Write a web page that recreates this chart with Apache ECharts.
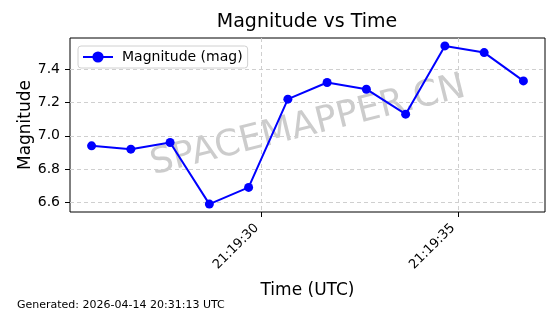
<!DOCTYPE html>
<html>
<head>
<meta charset="utf-8">
<script src="https://cdn.jsdelivr.net/npm/echarts@6/dist/echarts.min.js"></script>
<style>
html,body{margin:0;padding:0;background:#fff;}
#main{width:560px;height:314px;}
</style>
</head>
<body>
<div id="main"></div>
<script>
// observation times (UTC) and magnitudes
var times=["2026-04-13T21:19:25.670Z","2026-04-13T21:19:26.670Z","2026-04-13T21:19:27.670Z","2026-04-13T21:19:28.670Z","2026-04-13T21:19:29.670Z","2026-04-13T21:19:30.670Z","2026-04-13T21:19:31.670Z","2026-04-13T21:19:32.670Z","2026-04-13T21:19:33.670Z","2026-04-13T21:19:34.670Z","2026-04-13T21:19:35.670Z","2026-04-13T21:19:36.670Z"];
var mags=[6.94,6.92,6.96,6.59,6.69,7.22,7.32,7.28,7.13,7.54,7.50,7.33];
var xTicks=["2026-04-13T21:19:30.000Z","2026-04-13T21:19:35.000Z"];
var yTicks=[6.6,6.8,7.0,7.2,7.4];
var FONT="DejaVu Sans";

function pad(n){
	return (n<10?"0":"")+n;
}
function fmtTime(v){
	var d=new Date(v);
	return pad(d.getUTCHours())+":"+pad(d.getUTCMinutes())+":"+pad(d.getUTCSeconds());
}

var tms=[];
for(var i=0;i<times.length;i++){
	tms[tms.length]=Date.parse(times[i]);
}
var xt=[];
for(var i=0;i<xTicks.length;i++){
	xt[xt.length]=Date.parse(xTicks[i]);
}
var data=[];
for(var i=0;i<tms.length;i++){
	data[data.length]=[tms[i],mags[i]];
}
// matplotlib style 5% margins
var xSpan=tms[tms.length-1]-tms[0];
var xMin=tms[0]-xSpan*0.05;
var xMax=tms[tms.length-1]+xSpan*0.05;
var yLo=Math.min.apply(null,mags),yHi=Math.max.apply(null,mags);
var yMin=yLo-(yHi-yLo)*0.05;
var yMax=yHi+(yHi-yLo)*0.05;

var chart=echarts.init(document.getElementById("main"),null,{renderer:"canvas"});
chart.setOption({
	animation:false,
	textStyle:{fontFamily:FONT},
	title:{
		text:"Magnitude vs Time",
		left:307,
		top:13,
		textAlign:"center",
		padding:0,
		textStyle:{fontFamily:FONT,fontSize:19,fontWeight:"normal",color:"#000"}
	},
	legend:{
		left:78,
		top:46,
		padding:[4,5,4,4],
		itemWidth:30,
		itemHeight:14,
		borderColor:"#d0d0d0",
		borderWidth:1,
		borderRadius:3,
		backgroundColor:"rgba(255,255,255,0.8)",
		textStyle:{fontFamily:FONT,fontSize:14,color:"#000",padding:[0,0,0,4]},
		data:["Magnitude (mag)"]
	},
	grid:{
		left:70,
		right:15,
		top:38,
		bottom:102,
		show:true,
		borderColor:"#000",
		borderWidth:1,
		backgroundColor:"transparent"
	},
	xAxis:{
		type:"value",
		min:xMin,
		max:xMax,
		axisLine:{show:false},
		axisTick:{show:true,length:5,lineStyle:{color:"#000"},customValues:xt},
		axisLabel:{
			customValues:xt,
			rotate:45,
			margin:9,
			padding:[0,7,0,0],
			fontFamily:FONT,
			fontSize:13,
			color:"#000",
			formatter:function(v){return fmtTime(v);}
		},
		splitLine:{show:true,lineStyle:{color:"#cfcfcf",type:[4,3],width:1}},
		name:"Time (UTC)",
		nameLocation:"middle",
		nameGap:70,
		nameTextStyle:{fontFamily:FONT,fontSize:17,color:"#000"}
	},
	yAxis:{
		type:"value",
		min:yMin,
		max:yMax,
		axisLine:{show:false},
		axisTick:{show:true,length:5,lineStyle:{color:"#000"},customValues:yTicks},
		axisLabel:{
			customValues:yTicks,
			margin:10,
			fontFamily:FONT,
			fontSize:14,
			color:"#000",
			formatter:function(v){return v.toFixed(1);}
		},
		splitLine:{show:true,lineStyle:{color:"#cfcfcf",type:[4,3],width:1}},
		name:"Magnitude",
		nameLocation:"middle",
		nameMoveOverlap:false,
		nameGap:36,
		nameTextStyle:{fontFamily:FONT,fontSize:17,color:"#000"}
	},
	graphic:[{
		type:"text",
		x:308,
		y:126,
		rotation:14*Math.PI/180,
		silent:true,
		z:-1,
		style:{
			text:"SPACEMAPPER.CN",
			font:"36px 'DejaVu Sans'",
			fill:"rgba(128,128,128,0.4)",
			align:"center",
			verticalAlign:"middle"
		}
	},{
		type:"text",
		left:17,
		top:300,
		silent:true,
		style:{
			text:"Generated: 2026-04-14 20:31:13 UTC",
			font:"11px 'DejaVu Sans'",
			fill:"#000"
		}
	}],
	series:[{
		name:"Magnitude (mag)",
		type:"line",
		data:data,
		symbol:"circle",
		symbolSize:9,
		showSymbol:true,
		lineStyle:{color:"#0000ff",width:2},
		itemStyle:{color:"#0000ff"},
		z:3
	}]
});
</script>
</body>
</html>
